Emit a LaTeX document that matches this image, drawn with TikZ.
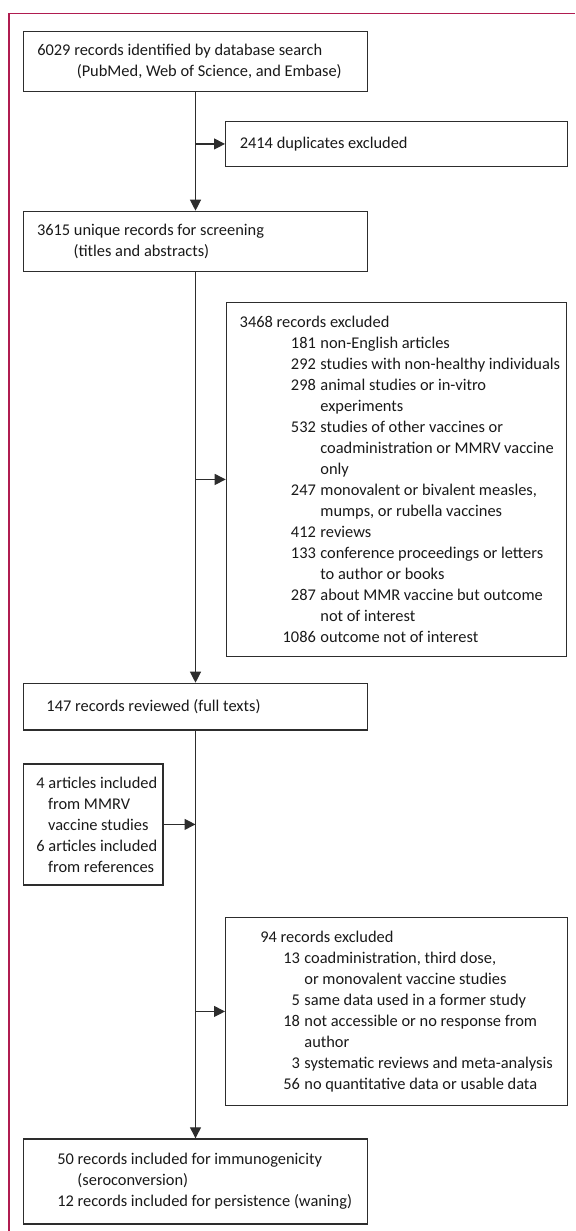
\documentclass[tikz,border=0pt]{standalone}
\usepackage{fontspec}
\setmainfont{Carlito}
\usetikzlibrary{arrows.meta}

\definecolor{framered}{RGB}{176,28,80}
\definecolor{boxline}{RGB}{45,45,45}

% numbers of the exclusion lists, right aligned
\newcommand{\scrn}[1]{\makebox[38.1pt][r]{#1}\hspace{2.25pt}}
\newcommand{\ftxn}[1]{\makebox[19.75pt][r]{#1}\hspace{2.25pt}}

\tikzset{
  box/.style={draw=boxline, line width=0.6pt, anchor=north west, inner sep=0pt},
  txt/.style={anchor=west, align=left, inner sep=0pt, text=black!90,
    font=\fontsize{8.2}{10.5}\selectfont},
  arr/.style={draw=boxline, line width=0.6pt, -{Triangle[length=5.5pt,width=5.5pt]}},
  spine/.style={draw=boxline, line width=0.6pt}
}

\begin{document}
\begin{tikzpicture}

    \useasboundingbox (0,0) rectangle (287.5pt,-615.5pt);

    %frame:
    \draw[framered, line width=0.7pt] (4.5pt,-615.5pt) -- (4.5pt,-6.67pt) -- (287.5pt,-6.67pt);

    %boxes of the main column:
    \node[box, minimum width=171.7pt, minimum height=30pt] (id) at (11.6pt,-15.35pt) {};
    \node[box, minimum width=171.7pt, minimum height=30.15pt] (uniq) at (11.6pt,-105.35pt) {};
    \node[box, minimum width=171.7pt, minimum height=23.3pt] (full) at (11.6pt,-341.35pt) {};
    \node[box, minimum width=171.7pt, minimum height=42.5pt] (incl) at (11.6pt,-569.15pt) {};

    %boxes on the side:
    \node[box, minimum width=170.8pt, minimum height=22.35pt] (dup) at (112.5pt,-60.5pt) {};
    \node[box, minimum width=170.15pt, minimum height=177.15pt] (scrx) at (112.85pt,-150.85pt) {};
    \node[box, minimum width=69.8pt, minimum height=60.5pt] (add) at (11.35pt,-381.65pt) {};
    \node[box, minimum width=170.8pt, minimum height=94.15pt] (ftx) at (112.5pt,-458.35pt) {};

    %texts:
    \node[txt] (id-t) at ([xshift=6.85pt]id.west)
      {6029 records identified by database search\\
       \hspace*{19.75pt}(PubMed, Web of Science, and Embase)};
    \node[txt] (dup-t) at ([xshift=7.2pt]dup.west) {2414 duplicates excluded};
    \node[txt] (uniq-t) at ([xshift=6.7pt]uniq.west)
      {3615 unique records for screening\\
       \hspace*{18.3pt}(titles and abstracts)};
    \node[txt] (scrx-t) at ([xshift=6.8pt]scrx.west)
      {3468 records excluded\\
       \scrn{181}non-English articles\\
       \scrn{292}studies with non-healthy individuals\\
       \scrn{298}animal studies or in-vitro\\
       \hspace*{40.35pt}experiments\\
       \scrn{532}studies of other vaccines or\\
       \hspace*{40.35pt}coadministration or MMRV vaccine\\
       \hspace*{40.35pt}only\\
       \scrn{247}monovalent or bivalent measles,\\
       \hspace*{40.35pt}mumps, or rubella vaccines\\
       \scrn{412}reviews\\
       \scrn{133}conference proceedings or letters\\
       \hspace*{40.35pt}to author or books\\
       \scrn{287}about MMR vaccine but outcome\\
       \hspace*{40.35pt}not of interest\\
       \scrn{1086}outcome not of interest};
    \node[txt] (full-t) at ([xshift=11.45pt]full.west) {147 records reviewed (full texts)};
    \node[txt] (add-t) at ([xshift=6.65pt]add.west)
      {4 articles included\\
       \hspace*{5.85pt}from MMRV\\
       \hspace*{5.85pt}vaccine studies\\
       6 articles included\\
       \hspace*{5.85pt}from references};
    \node[txt] (ftx-t) at ([xshift=17.5pt]ftx.west)
      {94 records excluded\\
       \ftxn{13}coadministration, third dose,\\
       \hspace*{22pt}or monovalent vaccine studies\\
       \ftxn{5}same data used in a former study\\
       \ftxn{18}not accessible or no response from\\
       \hspace*{22pt}author\\
       \ftxn{3}systematic reviews and meta-analysis\\
       \ftxn{56}no quantitative data or usable data};
    \node[txt] (incl-t) at ([xshift=16.85pt]incl.west)
      {50 records included for immunogenicity\\
       \hspace*{10.1pt}(seroconversion)\\
       12 records included for persistence (waning)};

    %draw arrows:
    \draw[arr] (id.south) -- (uniq.north);
    \draw[arr] (id.south |- dup.west) -- (dup.west);
    \draw[arr] (uniq.south) -- (full.north);
    \draw[arr] (uniq.south |- scrx.west) -- (scrx.west);
    \draw[arr] (full.south) -- (incl.north);
    \draw[arr] (add.east) -- (add.east -| full.south);
    \draw[arr] (full.south |- ftx.west) -- (ftx.west);

\end{tikzpicture}
\end{document}
